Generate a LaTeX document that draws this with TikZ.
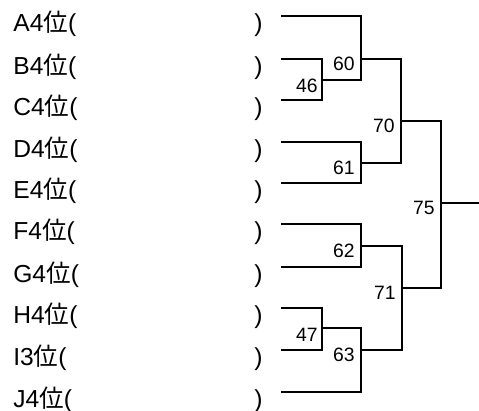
\documentclass[tikz,border=0pt]{standalone}
\usepackage{fontspec}
\setmainfont{Liberation Sans}
\newfontfamily\jp{Noto Sans CJK JP}

\tikzset{
  team/.style={anchor=base west,inner sep=0pt,font=\fontsize{14}{14}\selectfont},
  score/.style={anchor=east,inner sep=0pt,font=\fontsize{11}{11}\selectfont},
  bracket/.style={line width=1.6pt}
}

\begin{document}
\begin{tikzpicture}[x=0.02cm,y=-0.02cm]
        % \draw[help lines,step=20] (0,0) grid (479,410);
        \useasboundingbox (0,0) rectangle (479,410);

        \node[team] (tA) at (13,31) {A4{\jp 位}(};
        \node[team] (tB) at (13,74) {B4{\jp 位}(};
        \node[team] (tC) at (13,115) {C4{\jp 位}(};
        \node[team] (tD) at (13,157) {D4{\jp 位}(};
        \node[team] (tE) at (13,198) {E4{\jp 位}(};
        \node[team] (tF) at (13,239) {F4{\jp 位}(};
        \node[team] (tG) at (13,282) {G4{\jp 位}(};
        \node[team] (tH) at (13,323) {H4{\jp 位}(};
        \node[team] (tI) at (13,365) {I3{\jp 位}(};
        \node[team] (tJ) at (13,407) {J4{\jp 位}(};

        \node[team] (pA) at (254,31) {)};
        \node[team] (pB) at (254,74) {)};
        \node[team] (pC) at (254,115) {)};
        \node[team] (pD) at (254,157) {)};
        \node[team] (pE) at (254,198) {)};
        \node[team] (pF) at (254,239) {)};
        \node[team] (pG) at (254,282) {)};
        \node[team] (pH) at (254,323) {)};
        \node[team] (pI) at (254,365) {)};
        \node[team] (pJ) at (254,407) {)};

        % start of each line
        \coordinate (sA) at (281,16);
        \coordinate (sB) at (281,59);
        \coordinate (sC) at (281,100);
        \coordinate (sD) at (281,142);
        \coordinate (sE) at (281,183);
        \coordinate (sF) at (281,224);
        \coordinate (sG) at (281,267);
        \coordinate (sH) at (281,308);
        \coordinate (sI) at (281,350);
        \coordinate (sJ) at (281,392);

        % winners of each match
        \coordinate (m46) at (322,80);
        \coordinate (m60) at (361,59);
        \coordinate (m61) at (361,163);
        \coordinate (m70) at (401,121);
        \coordinate (m62) at (361,246);
        \coordinate (m47) at (322,328);
        \coordinate (m63) at (361,350);
        \coordinate (m71) at (402,288);
        \coordinate (m75) at (441,203);
        \coordinate (win) at (479,203);

        \draw[bracket] (sB) -| (m46) |- (sC);
        \draw[bracket] (sA) -| (m60) |- (m46);
        \draw[bracket] (sD) -| (m61) |- (sE);
        \draw[bracket] (m60) -| (m70) |- (m61);
        \draw[bracket] (sF) -| (m62) |- (sG);
        \draw[bracket] (sH) -| (m47) |- (sI);
        \draw[bracket] (m47) -| (m63) |- (sJ);
        \draw[bracket] (m62) -| (m71) |- (m63);
        \draw[bracket] (m70) -| (m75) |- (m71);
        \draw[bracket] (m75) -- (win);

        \node[score] (n46) at ([shift={(-4,6)}]m46) {46};
        \node[score] (n60) at ([shift={(-6,5)}]m60) {60};
        \node[score] (n61) at ([shift={(-6,5)}]m61) {61};
        \node[score] (n70) at ([shift={(-6,5)}]m70) {70};
        \node[score] (n62) at ([shift={(-6,5)}]m62) {62};
        \node[score] (n47) at ([shift={(-4,7)}]m47) {47};
        \node[score] (n63) at ([shift={(-6,5)}]m63) {63};
        \node[score] (n71) at ([shift={(-6,5)}]m71) {71};
        \node[score] (n75) at ([shift={(-6,5)}]m75) {75};
\end{tikzpicture}
\end{document}
